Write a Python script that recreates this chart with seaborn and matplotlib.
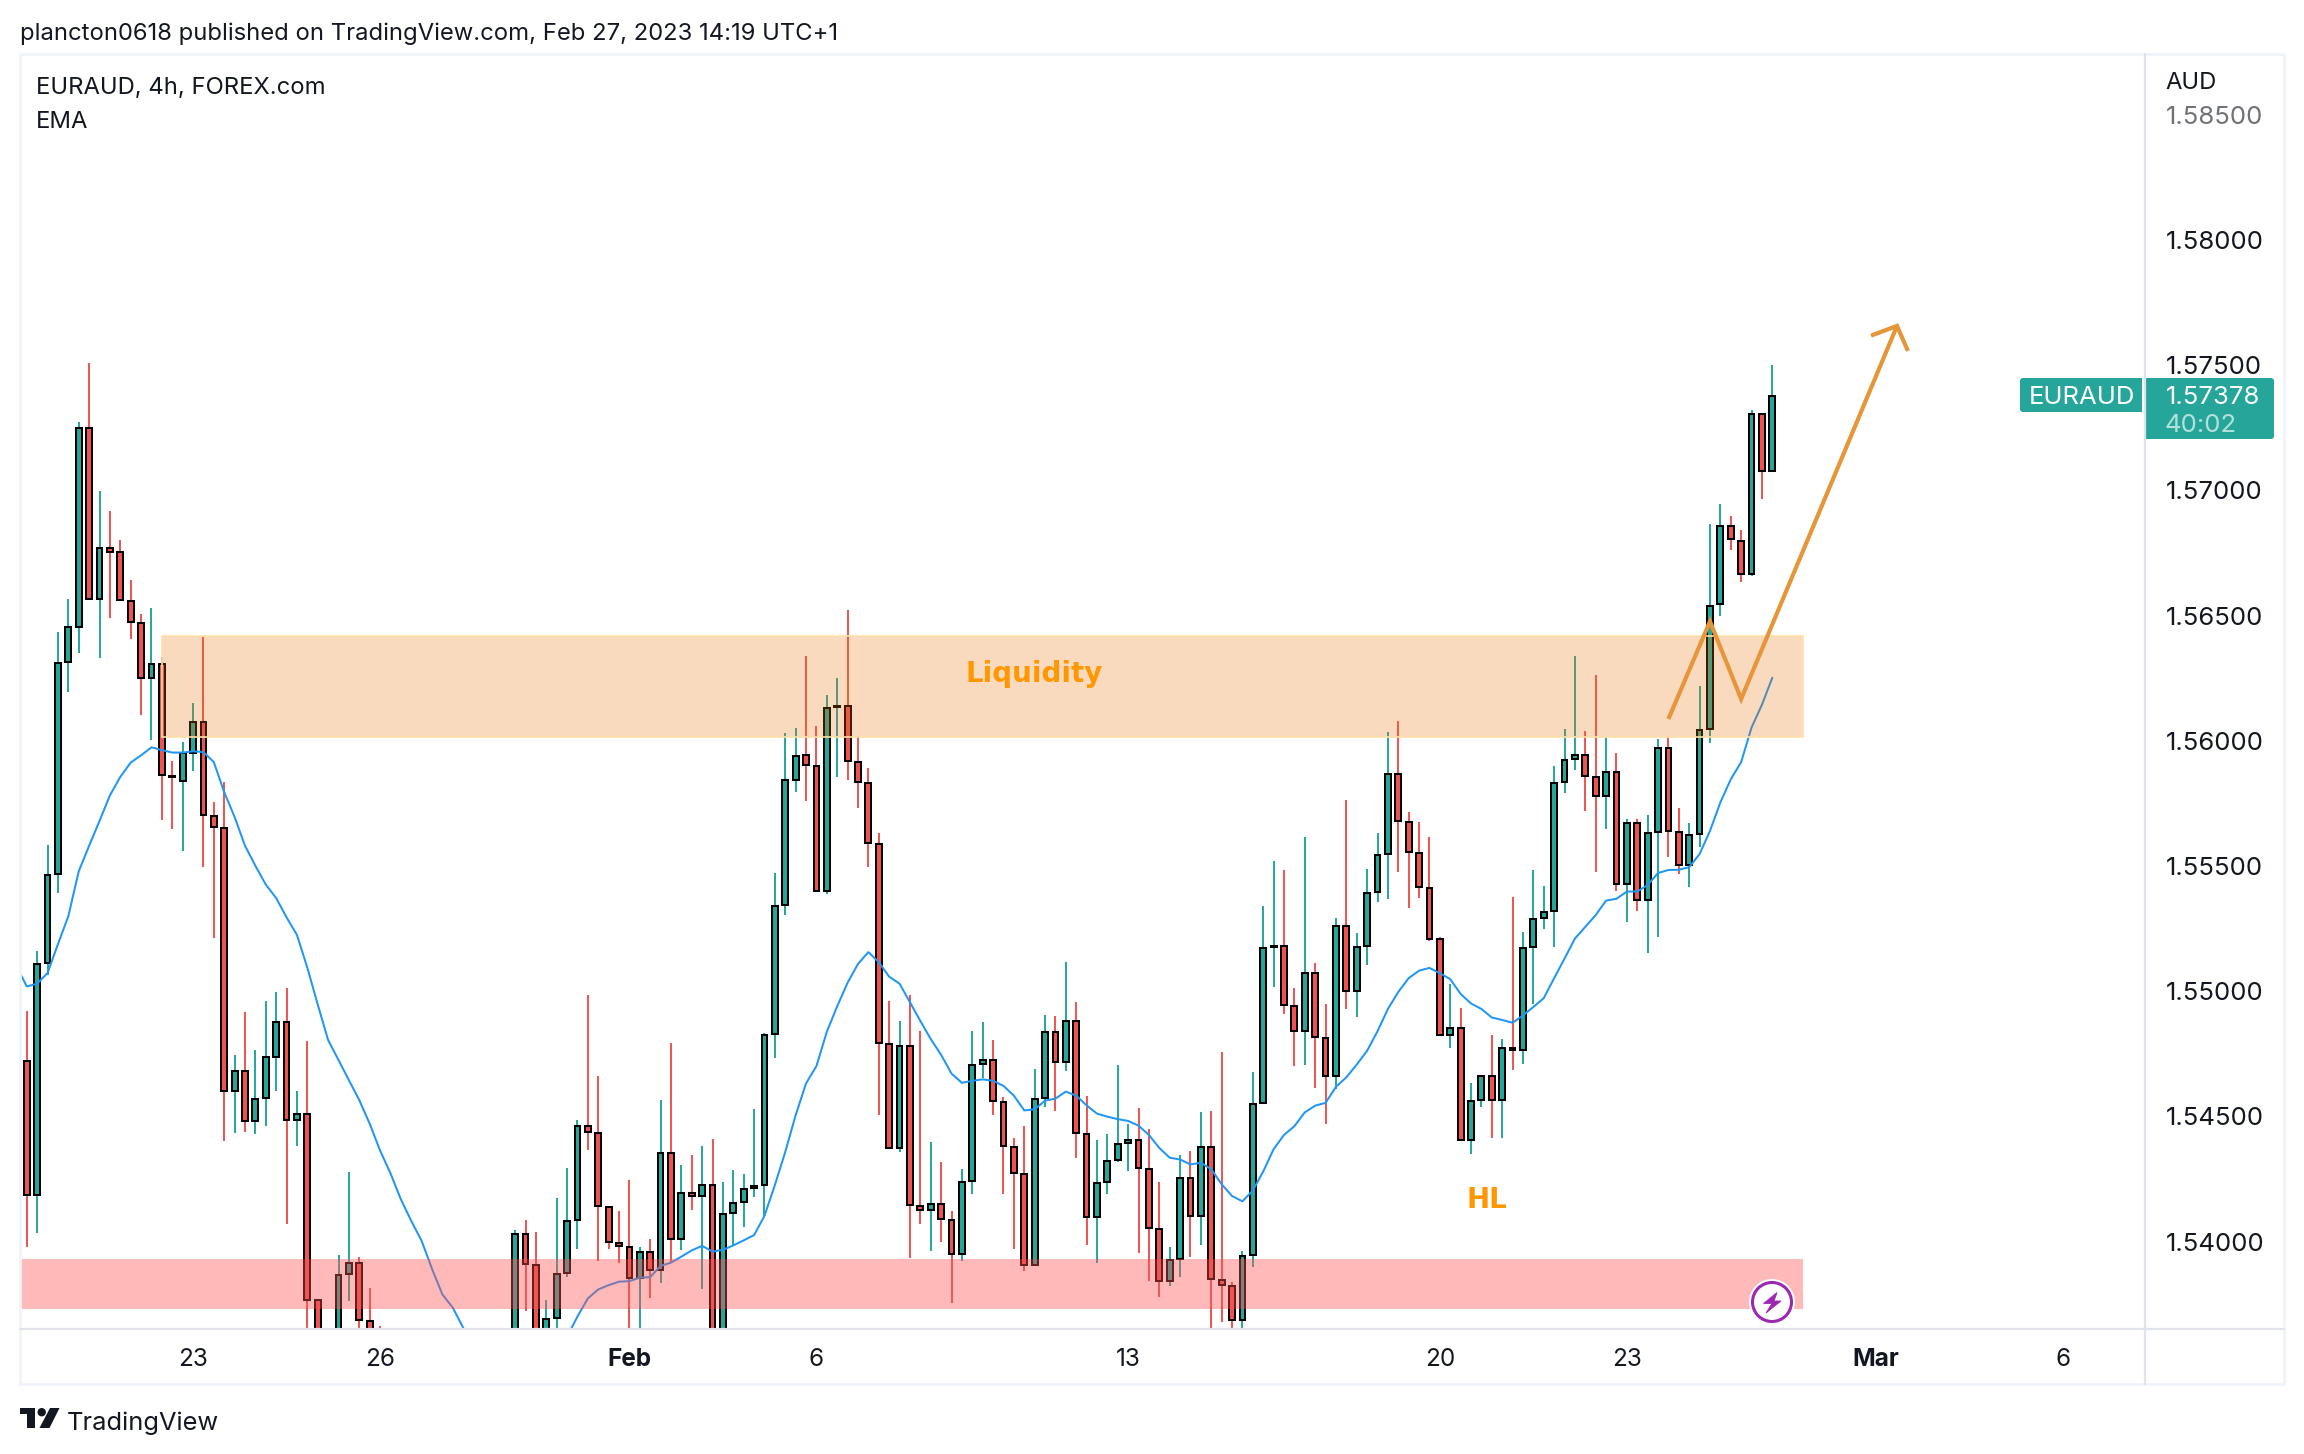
"""EURAUD 4h chart, TradingView snapshot style."""
import numpy as np
import pandas as pd
import matplotlib
matplotlib.use("Agg")
import matplotlib.pyplot as plt
from matplotlib.patches import Circle, FancyBboxPatch, Polygon, Rectangle
import seaborn as sns

nan = np.nan

# ---- data, nan = bar entirely below the visible range
opens = [
    1.54723, 1.54188, 1.55113, 1.55469, 1.56316, 1.56455, 1.57250, 1.56568, 1.56768, 1.56752,
    1.56560, 1.56471, 1.56250, 1.56308, 1.55859, 1.55840, 1.55950, 1.56076, 1.55701, 1.55653,
    1.54602, 1.54682, 1.54482, 1.54575, 1.54736, 1.54878, 1.54487, 1.54511, 1.53765, nan,
    1.53500, 1.53872, 1.53915, 1.53682, 1.53500, nan, nan, nan, nan, nan,
    nan, nan, nan, nan, nan, nan, nan, 1.53500, 1.54030, 1.53907,
    1.53450, 1.53695, 1.53875, 1.54087, 1.54460, 1.54434, 1.54138, 1.53995, 1.53979, 1.53856,
    1.53960, 1.53887, 1.54352, 1.54011, 1.54195, 1.54183, 1.54226, 1.53500, 1.54114, 1.54158,
    1.54215, 1.54226, 1.54828, 1.55344, 1.55844, 1.55944, 1.55899, 1.55401, 1.56134, 1.56138,
    1.55915, 1.55832, 1.55587, 1.54789, 1.54373, 1.54781, 1.54142, 1.54126, 1.54150, 1.54087,
    1.53952, 1.54242, 1.54709, 1.54726, 1.54558, 1.54377, 1.54269, 1.53907, 1.54573, 1.54838,
    1.54717, 1.54881, 1.54430, 1.54099, 1.54240, 1.54325, 1.54393, 1.54407, 1.54291, 1.54050,
    1.53844, 1.53929, 1.54255, 1.54101, 1.54378, 1.53847, 1.53823, 1.53687, 1.53946, 1.54553,
    1.55176, 1.55181, 1.54941, 1.54840, 1.55074, 1.54815, 1.54661, 1.55262, 1.55000, 1.55180,
    1.55396, 1.55547, 1.55867, 1.55676, 1.55552, 1.55414, 1.55209, 1.54825, 1.54854, 1.54405,
    1.54565, 1.54661, 1.54565, 1.54774, 1.54765, 1.55176, 1.55292, 1.55320, 1.55835, 1.55927,
    1.55944, 1.55855, 1.55780, 1.55876, 1.55427, 1.55673, 1.55364, 1.55637, 1.55972, 1.55635,
    1.55502, 1.55628, 1.56048, 1.56545, 1.56857, 1.56798, 1.56665, 1.57304, 1.57077,
]
closes = [
    1.54188, 1.55108, 1.55466, 1.56311, 1.56453, 1.57250, 1.56568, 1.56768, 1.56752, 1.56562,
    1.56474, 1.56250, 1.56308, 1.55864, 1.55854, 1.55950, 1.56076, 1.55704, 1.55656, 1.54602,
    1.54682, 1.54482, 1.54570, 1.54736, 1.54878, 1.54487, 1.54511, 1.53765, 1.53450, nan,
    1.53867, 1.53915, 1.53688, 1.53450, 1.53400, nan, nan, nan, nan, nan,
    nan, nan, nan, nan, nan, nan, nan, 1.54030, 1.53911, 1.53500,
    1.53691, 1.53871, 1.54083, 1.54460, 1.54438, 1.54142, 1.53999, 1.53983, 1.53856, 1.53960,
    1.53887, 1.54352, 1.54011, 1.54195, 1.54183, 1.54226, 1.53450, 1.54111, 1.54154, 1.54211,
    1.54222, 1.54824, 1.55340, 1.55842, 1.55940, 1.55903, 1.55401, 1.56130, 1.56138, 1.55919,
    1.55836, 1.55591, 1.54795, 1.54373, 1.54781, 1.54146, 1.54126, 1.54150, 1.54091, 1.53952,
    1.54238, 1.54705, 1.54726, 1.54562, 1.54381, 1.54273, 1.53907, 1.54569, 1.54838, 1.54717,
    1.54881, 1.54434, 1.54099, 1.54234, 1.54323, 1.54390, 1.54407, 1.54294, 1.54054, 1.53844,
    1.53926, 1.54255, 1.54101, 1.54378, 1.53849, 1.53827, 1.53687, 1.53943, 1.54550, 1.55173,
    1.55181, 1.54944, 1.54840, 1.55074, 1.54816, 1.54661, 1.55262, 1.55000, 1.55176, 1.55393,
    1.55545, 1.55867, 1.55680, 1.55555, 1.55415, 1.55210, 1.54825, 1.54854, 1.54405, 1.54562,
    1.54661, 1.54565, 1.54774, 1.54765, 1.55173, 1.55289, 1.55316, 1.55832, 1.55924, 1.55944,
    1.55859, 1.55780, 1.55876, 1.55427, 1.55673, 1.55364, 1.55632, 1.55972, 1.55640, 1.55502,
    1.55624, 1.56043, 1.56539, 1.56857, 1.56804, 1.56665, 1.57304, 1.57077, 1.57378,
]
highs = [
    1.54920, 1.55161, 1.55584, 1.56434, 1.56565, 1.57274, 1.57509, 1.56998, 1.56918, 1.56803,
    1.56643, 1.56506, 1.56530, 1.56335, 1.55921, 1.55995, 1.56151, 1.56415, 1.55755, 1.55835,
    1.54747, 1.54918, 1.54765, 1.54961, 1.54998, 1.55014, 1.54602, 1.54800, 1.53765, nan,
    1.53947, 1.54279, 1.53939, 1.53816, 1.53661, nan, nan, nan, nan, nan,
    nan, nan, nan, nan, nan, nan, nan, 1.54048, 1.54087, 1.54040,
    1.53765, 1.54175, 1.54295, 1.54485, 1.54985, 1.54662, 1.54138, 1.54122, 1.54246, 1.53979,
    1.54009, 1.54565, 1.54793, 1.54307, 1.54346, 1.54381, 1.54411, 1.54238, 1.54287, 1.54269,
    1.54530, 1.54834, 1.55472, 1.56030, 1.56052, 1.56338, 1.56060, 1.56183, 1.56250, 1.56523,
    1.56019, 1.55891, 1.55632, 1.54962, 1.54881, 1.54985, 1.54842, 1.54399, 1.54318, 1.54122,
    1.54291, 1.54842, 1.54877, 1.54807, 1.54577, 1.54415, 1.54462, 1.54689, 1.54905, 1.54901,
    1.55116, 1.54958, 1.54581, 1.54407, 1.54431, 1.54705, 1.54470, 1.54533, 1.54449, 1.54238,
    1.53978, 1.54345, 1.54362, 1.54518, 1.54521, 1.54757, 1.53837, 1.53963, 1.54678, 1.55340,
    1.55519, 1.55484, 1.55012, 1.55617, 1.55113, 1.54949, 1.55292, 1.55763, 1.55233, 1.55489,
    1.55632, 1.56035, 1.56079, 1.55716, 1.55676, 1.55617, 1.55216, 1.55030, 1.54932, 1.54634,
    1.54664, 1.54825, 1.54809, 1.55376, 1.55236, 1.55484, 1.55420, 1.55900, 1.56047, 1.56339,
    1.56038, 1.56263, 1.56016, 1.55951, 1.55688, 1.55687, 1.55704, 1.56009, 1.56014, 1.55732,
    1.55670, 1.56220, 1.56866, 1.56947, 1.56898, 1.56841, 1.57320, 1.57304, 1.57501,
]
lows = [
    1.53979, 1.54033, 1.55065, 1.55391, 1.56196, 1.56351, 1.56562, 1.56330, 1.56490, 1.56562,
    1.56407, 1.56102, 1.56003, 1.55683, 1.55648, 1.55560, 1.55880, 1.55495, 1.55212, 1.54402,
    1.54434, 1.54439, 1.54431, 1.54463, 1.54602, 1.54070, 1.54383, 1.53400, 1.53300, nan,
    1.53400, 1.53762, 1.53550, 1.53350, 1.53300, nan, nan, nan, nan, nan,
    nan, nan, nan, nan, nan, nan, nan, 1.53400, 1.53724, 1.53400,
    1.53350, 1.53600, 1.53858, 1.53971, 1.54364, 1.53924, 1.53971, 1.53916, 1.53550, 1.53550,
    1.53775, 1.53834, 1.53913, 1.53967, 1.54126, 1.53809, 1.53350, 1.53400, 1.53985, 1.54058,
    1.54179, 1.54101, 1.54734, 1.55305, 1.55795, 1.55760, 1.55401, 1.55389, 1.55856, 1.55844,
    1.55732, 1.55497, 1.54507, 1.54373, 1.54358, 1.53934, 1.54071, 1.53964, 1.53997, 1.53756,
    1.53922, 1.54191, 1.54652, 1.54507, 1.54191, 1.53971, 1.53883, 1.53903, 1.54538, 1.54522,
    1.54681, 1.54334, 1.53987, 1.53916, 1.54190, 1.54318, 1.54282, 1.53955, 1.53842, 1.53779,
    1.53823, 1.53859, 1.53939, 1.53987, 1.53600, 1.53680, 1.53600, 1.53600, 1.53898, 1.54552,
    1.55018, 1.54908, 1.54702, 1.54705, 1.54613, 1.54470, 1.54610, 1.54929, 1.54896, 1.55105,
    1.55355, 1.55367, 1.55478, 1.55332, 1.55373, 1.55199, 1.54825, 1.54774, 1.54405, 1.54350,
    1.54538, 1.54414, 1.54414, 1.54685, 1.54709, 1.54949, 1.55248, 1.55176, 1.55792, 1.55883,
    1.55719, 1.55477, 1.55647, 1.55400, 1.55277, 1.55320, 1.55151, 1.55217, 1.55536, 1.55468,
    1.55415, 1.55576, 1.55993, 1.56497, 1.56761, 1.56633, 1.56660, 1.56965, 1.57072,
]
# EMA, first value belongs to the bar just before the left edge
ema = [
    1.55100,
    1.55019, 1.55030, 1.55073, 1.55188, 1.55300, 1.55479, 1.55581, 1.55680, 1.55782, 1.55856,
    1.55913, 1.55942, 1.55974, 1.55963, 1.55953, 1.55953, 1.55958, 1.55955, 1.55915, 1.55795,
    1.55696, 1.55581, 1.55501, 1.55426, 1.55372, 1.55295, 1.55225, 1.55094, 1.54947, 1.54805,
    1.54725, 1.54645, 1.54565, 1.54471, 1.54364, 1.54273, 1.54169, 1.54083, 1.54003, 1.53891,
    1.53789, 1.53736, 1.53656, 1.53550, nan, nan, nan, nan, nan, nan,
    nan, 1.53550, 1.53620, 1.53701, 1.53773, 1.53809, 1.53826, 1.53840, 1.53842, 1.53856,
    1.53858, 1.53903, 1.53916, 1.53940, 1.53965, 1.53983, 1.53960, 1.53967, 1.53985, 1.54005,
    1.54026, 1.54103, 1.54226, 1.54358, 1.54505, 1.54632, 1.54701, 1.54838, 1.54940, 1.55034,
    1.55109, 1.55156, 1.55116, 1.55058, 1.55030, 1.54956, 1.54881, 1.54809, 1.54746, 1.54671,
    1.54634, 1.54642, 1.54648, 1.54642, 1.54622, 1.54583, 1.54524, 1.54528, 1.54563, 1.54571,
    1.54599, 1.54583, 1.54544, 1.54511, 1.54499, 1.54489, 1.54482, 1.54463, 1.54426, 1.54374,
    1.54335, 1.54328, 1.54308, 1.54315, 1.54289, 1.54229, 1.54182, 1.54161, 1.54204, 1.54280,
    1.54369, 1.54426, 1.54461, 1.54516, 1.54543, 1.54554, 1.54618, 1.54656, 1.54707, 1.54762,
    1.54840, 1.54929, 1.54997, 1.55052, 1.55082, 1.55093, 1.55072, 1.55048, 1.54989, 1.54951,
    1.54929, 1.54895, 1.54885, 1.54874, 1.54903, 1.54937, 1.54972, 1.55052, 1.55130, 1.55210,
    1.55257, 1.55304, 1.55362, 1.55369, 1.55398, 1.55398, 1.55424, 1.55472, 1.55484, 1.55485,
    1.55495, 1.55548, 1.55640, 1.55754, 1.55846, 1.55915, 1.56053, 1.56144, 1.56252,
]

price_ticks = [1.585, 1.58, 1.575, 1.57, 1.565, 1.56, 1.555, 1.55, 1.545, 1.54]
date_ticks = [16, 34, 58, 76, 106, 136, 154, 178, 196]
date_labels = ["23", "26", "Feb", "6", "13", "20", "23", "Mar", "6"]

liquidity_zone = (13, 171, 1.56014, 1.56419)
support_zone = (-2, 171, 1.53730, 1.53931)
path_x = [158, 162, 165, 180]
path_y = [1.56087, 1.56477, 1.56167, 1.57657]
head_x = [177.5, 180, 181.05]
head_y = [1.57618, 1.57657, 1.57557]
last_price = 1.57378

# ---- page geometry, pixels
W, H = 2304, 1454
LEFT, RIGHT, TOP, BOTTOM = 20, 2145, 54, 1329
FRAME_R, FRAME_B = 2284, 1384
BAR0, BAR_STEP = 26.8, 10.39
PX_PER_UNIT = 25040

UP, DOWN = "#26A69A", "#EF5350"
INK = "#131722"
ORANGE = "#FF9800"
ARROW = "#E69538"
TEXT_SIZE = 17.15
PRICE_SIZE = 18.5

sns.set_theme(style="white")
plt.rcParams["font.family"] = ["Inter", "DejaVu Sans"]

df = pd.DataFrame({"open": opens, "high": highs, "low": lows, "close": closes})
df["bar"] = np.arange(len(df))
df["color"] = np.where(df["close"] >= df["open"], UP, DOWN)
df["top"] = df[["open", "close"]].max(axis=1)
df["bottom"] = df[["open", "close"]].min(axis=1)
df = df.dropna()

ema_df = pd.DataFrame({"bar": np.arange(-1, len(ema) - 1), "ema": ema})

fig = plt.figure(figsize=(W / 100, H / 100), dpi=100, facecolor="white")
ax = fig.add_axes([LEFT / W, 1 - BOTTOM / H, (RIGHT - LEFT) / W, (BOTTOM - TOP) / H])
ax.set_facecolor("none")

# candles
ax.vlines(df["bar"], df["low"], df["high"], colors=df["color"], linewidth=1.4, zorder=2)
ax.bar(df["bar"], df["top"] - df["bottom"], bottom=df["bottom"], width=0.56,
       color=df["color"], edgecolor="black", linewidth=1.45, zorder=3)

sns.lineplot(data=ema_df, x="bar", y="ema", color="#2196F3", linewidth=1.45,
             ax=ax, zorder=4, legend=False)

# zones sit over the candles
x0, x1, y0, y1 = liquidity_zone
ax.add_patch(Rectangle((x0, y0), x1 - x0, y1 - y0, facecolor="#EF6C00", alpha=0.25,
                       edgecolor="none", zorder=5))
ax.add_patch(Rectangle((x0, y0), x1 - x0, y1 - y0, facecolor="none",
                       edgecolor="#FFE0A8", linewidth=1.2, zorder=5))
x0, x1, y0, y1 = support_zone
ax.add_patch(Rectangle((x0, y0), x1 - x0, y1 - y0, facecolor="#FF5252", alpha=0.4,
                       edgecolor="none", zorder=5))

ax.plot(path_x, path_y, color=ARROW, linewidth=3.0, solid_joinstyle="miter",
        solid_capstyle="butt", zorder=6)
ax.plot(head_x, head_y, color=ARROW, linewidth=3.0, solid_joinstyle="miter",
        solid_capstyle="butt", zorder=6)

ax.text(97, 1.56265, "Liquidity", color=ORANGE, fontsize=20, fontweight="bold",
        family="DejaVu Sans", ha="center", va="center", zorder=7)
ax.text(140.5, 1.54168, "HL", color=ORANGE, fontsize=20, fontweight="bold",
        family="DejaVu Sans", ha="center", va="center", zorder=7)

ax.set_xlim((LEFT - BAR0) / BAR_STEP, (RIGHT - BAR0) / BAR_STEP)
ax.set_ylim(1.58 - (BOTTOM - 240) / PX_PER_UNIT, 1.58 + (240 - TOP) / PX_PER_UNIT)
ax.set_xlabel("")
ax.set_ylabel("")

ax.set_xticks(date_ticks, date_labels)
ax.set_yticks(price_ticks, [f"{p:.5f}" for p in price_ticks])
ax.yaxis.tick_right()
ax.tick_params(axis="y", length=0, pad=15, labelsize=PRICE_SIZE, labelcolor=INK)
ax.tick_params(axis="x", length=0, pad=14, labelsize=17.5, labelcolor=INK)
for label in ax.get_yticklabels():
    label.set_ha("left")
ax.get_yticklabels()[0].set_color("#6E7178")
for label in ax.get_xticklabels():
    if label.get_text() in ("Feb", "Mar"):
        label.set_fontweight("bold")
sns.despine(ax=ax, left=True, bottom=True, right=True, top=True)

# page furniture drawn in pixel coordinates
page = fig.add_axes([0, 0, 1, 1], zorder=10)
page.set_xlim(0, W)
page.set_ylim(H, 0)
page.axis("off")
page.patch.set_alpha(0)

page.add_patch(Rectangle((LEFT, TOP), FRAME_R - LEFT, FRAME_B - TOP, fill=False,
                         edgecolor="#F0F3FA", linewidth=2))
page.plot([LEFT, FRAME_R], [BOTTOM, BOTTOM], color="#E0E3EB", linewidth=1.6)
page.plot([RIGHT, RIGHT], [TOP, FRAME_B], color="#E0E3EB", linewidth=1.6)

page.text(20, 34, "plancton0618 published on TradingView.com, Feb 27, 2023 14:19 UTC+1",
          color=INK, fontsize=TEXT_SIZE, ha="left", va="center")
page.text(36, 88, "EURAUD, 4h, FOREX.com", color=INK, fontsize=TEXT_SIZE, ha="left", va="center")
page.text(36, 122, "EMA", color=INK, fontsize=TEXT_SIZE, ha="left", va="center")
page.text(2165, 83, "AUD", color=INK, fontsize=TEXT_SIZE, ha="left", va="center")

# last price labels
page.add_patch(FancyBboxPatch((2023, 381), 119, 28, boxstyle="round,pad=3,rounding_size=3",
                              facecolor=UP, edgecolor="none"))
page.add_patch(FancyBboxPatch((2147, 381), 124, 55, boxstyle="round,pad=3,rounding_size=3",
                              facecolor=UP, edgecolor="none"))
page.add_patch(Rectangle((2142, 378), 2.5, 61, facecolor="white", edgecolor="none"))
page.add_patch(Rectangle((2144.5, 378), 6, 61, facecolor=UP, edgecolor="none"))
page.text(2082, 397, "EURAUD", color="white", fontsize=PRICE_SIZE, ha="center", va="center")
page.text(2166, 397, f"{last_price:.5f}", color="white", fontsize=PRICE_SIZE, ha="left", va="center")
page.text(2165, 426, "40:02", color="#B4E0DB", fontsize=PRICE_SIZE, ha="left", va="center")

# lightning badge
page.add_patch(Circle((1772, 1302), 23, facecolor="white", edgecolor="none"))
page.add_patch(Circle((1772, 1302), 19.5, facecolor="white", edgecolor="#9C27B0", linewidth=2.2))
page.add_patch(Polygon([(1777, 1292.5), (1763.5, 1303.5), (1772, 1303.5), (1766, 1313),
                        (1781, 1301), (1774, 1301)], closed=True,
                       facecolor="#9C27B0", edgecolor="#9C27B0", linewidth=0.6))

# TradingView logo
page.add_patch(Polygon([(20, 1408), (35, 1408), (35, 1428), (27, 1428), (27, 1414), (20, 1414)],
                       closed=True, facecolor=INK, edgecolor="none"))
page.add_patch(Circle((41.7, 1412.2), 4.2, facecolor=INK, edgecolor="none"))
page.add_patch(Polygon([(50, 1408), (59.5, 1408), (49.5, 1428), (39.5, 1428)], closed=True,
                       facecolor=INK, edgecolor="none"))
page.text(67, 1423, "TradingView", color=INK, fontsize=18.3, ha="left", va="center")

fig.savefig("out.png", dpi=100, facecolor="white")
